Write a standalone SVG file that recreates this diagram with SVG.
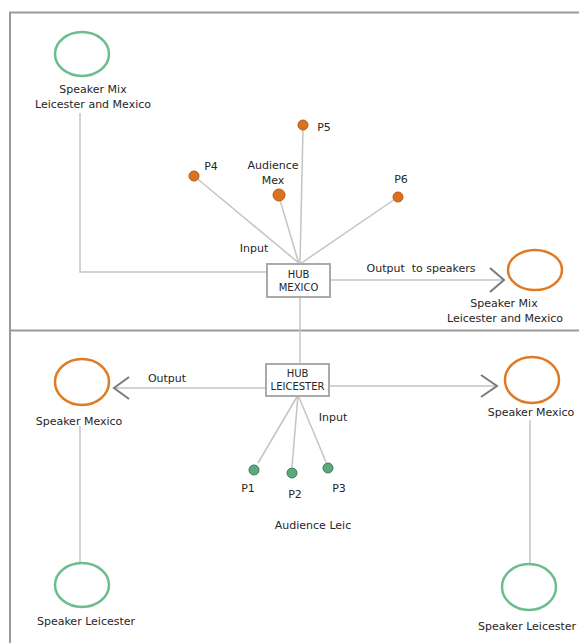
<svg xmlns="http://www.w3.org/2000/svg" width="579" height="643" viewBox="0 0 579 643">
<style>
text{font-family:"DejaVu Sans","Liberation Sans",sans-serif;font-size:11px;fill:#262626;text-anchor:middle}
.hubt{font-size:10px}
.pre{white-space:pre}
.frame{fill:none;stroke:#9a9a9a;stroke-width:2}
.conn{fill:none;stroke:#c4c4c4;stroke-width:1.5}
.arrow{fill:none;stroke:#7a7a7a;stroke-width:2}
.hub{fill:#fff;stroke:#aaa;stroke-width:2}
.spk-o{fill:#fff;stroke:#e07b25;stroke-width:2.5}
.spk-g{fill:#fff;stroke:#6cbd8e;stroke-width:2.5}
.dot-o{fill:#dd6f1d;stroke:#b45a18;stroke-width:1}
.dot-g{fill:#5da97b;stroke:#3f7a57;stroke-width:1}
</style>
<rect id="frame" class="frame" x="10" y="12.5" width="600" height="660"/>
<line class="frame" x1="10" y1="330.5" x2="579" y2="330.5"/>
<g id="connectors">
<polyline class="conn" points="80,113 80,272 267,272"/>
<line class="conn" x1="194" y1="176" x2="300" y2="264"/>
<line class="conn" x1="280" y1="200" x2="299" y2="264"/>
<line class="conn" x1="303" y1="128" x2="300" y2="264"/>
<line class="conn" x1="398" y1="197" x2="300" y2="264"/>
<line class="conn" x1="330" y1="280" x2="504" y2="280"/>
<polyline class="arrow" points="490,268 504,280 490,292"/>
<line class="conn" x1="300" y1="297" x2="300" y2="365"/>
<line class="conn" x1="267" y1="388" x2="114" y2="388"/>
<polyline class="arrow" points="129,377 114,388 129,399"/>
<line class="conn" x1="329" y1="386" x2="497" y2="386"/>
<polyline class="arrow" points="481,375 497,386 481,397"/>
<line class="conn" x1="80" y1="426" x2="80" y2="563"/>
<line class="conn" x1="530" y1="420" x2="530" y2="564"/>
<line class="conn" x1="298" y1="395" x2="258" y2="463"/>
<line class="conn" x1="298" y1="395" x2="292" y2="467"/>
<line class="conn" x1="298" y1="395" x2="326" y2="462"/>
</g>
<g id="speaker-mix-top">
<ellipse class="spk-g" cx="82" cy="54" rx="27" ry="22"/>
<text x="93" y="93">Speaker Mix</text>
<text x="93" y="108">Leicester and Mexico</text>
</g>
<g id="hub-mexico">
<rect class="hub" x="267" y="264" width="63" height="33"/>
<text class="hubt" x="298.5" y="278">HUB</text>
<text class="hubt" x="298.5" y="291">MEXICO</text>
</g>
<g id="p5"><circle class="dot-o" cx="303" cy="125" r="5"/><text x="324" y="131">P5</text></g>
<g id="p4"><circle class="dot-o" cx="194" cy="176" r="5"/><text x="211" y="170">P4</text></g>
<g id="audience-mex"><circle class="dot-o" cx="279" cy="195" r="6"/><text x="273" y="169">Audience</text><text x="273" y="184">Mex</text></g>
<g id="p6"><circle class="dot-o" cx="398" cy="197" r="5"/><text x="401" y="183">P6</text></g>
<text x="254" y="252">Input</text>
<text class="pre" x="421" y="272">Output  to speakers</text>
<g id="speaker-mix-right">
<ellipse class="spk-o" cx="535" cy="270" rx="27" ry="20"/>
<text x="504" y="307">Speaker Mix</text>
<text x="505" y="322">Leicester and Mexico</text>
</g>
<g id="hub-leicester">
<rect class="hub" x="266" y="364" width="63" height="32"/>
<text class="hubt" x="297.5" y="377">HUB</text>
<text class="hubt" x="297.5" y="390">LEICESTER</text>
</g>
<text x="167" y="382">Output</text>
<g id="speaker-mexico-left">
<ellipse class="spk-o" cx="82" cy="382" rx="27" ry="23"/>
<text x="79" y="425">Speaker Mexico</text>
</g>
<g id="speaker-mexico-right">
<ellipse class="spk-o" cx="532" cy="380" rx="27" ry="23"/>
<text x="531" y="416">Speaker Mexico</text>
</g>
<g id="speaker-leicester-left">
<ellipse class="spk-g" cx="82" cy="585" rx="27" ry="22"/>
<text x="86" y="625">Speaker Leicester</text>
</g>
<g id="speaker-leicester-right">
<ellipse class="spk-g" cx="529" cy="587" rx="27" ry="23"/>
<text x="527" y="630">Speaker Leicester</text>
</g>
<text x="333" y="421">Input</text>
<g id="p1"><circle class="dot-g" cx="254" cy="470" r="5"/><text x="248" y="492">P1</text></g>
<g id="p2"><circle class="dot-g" cx="292" cy="473" r="5"/><text x="295" y="498">P2</text></g>
<g id="p3"><circle class="dot-g" cx="328" cy="468" r="5"/><text x="339" y="492">P3</text></g>
<text x="313" y="529">Audience Leic</text>
</svg>
